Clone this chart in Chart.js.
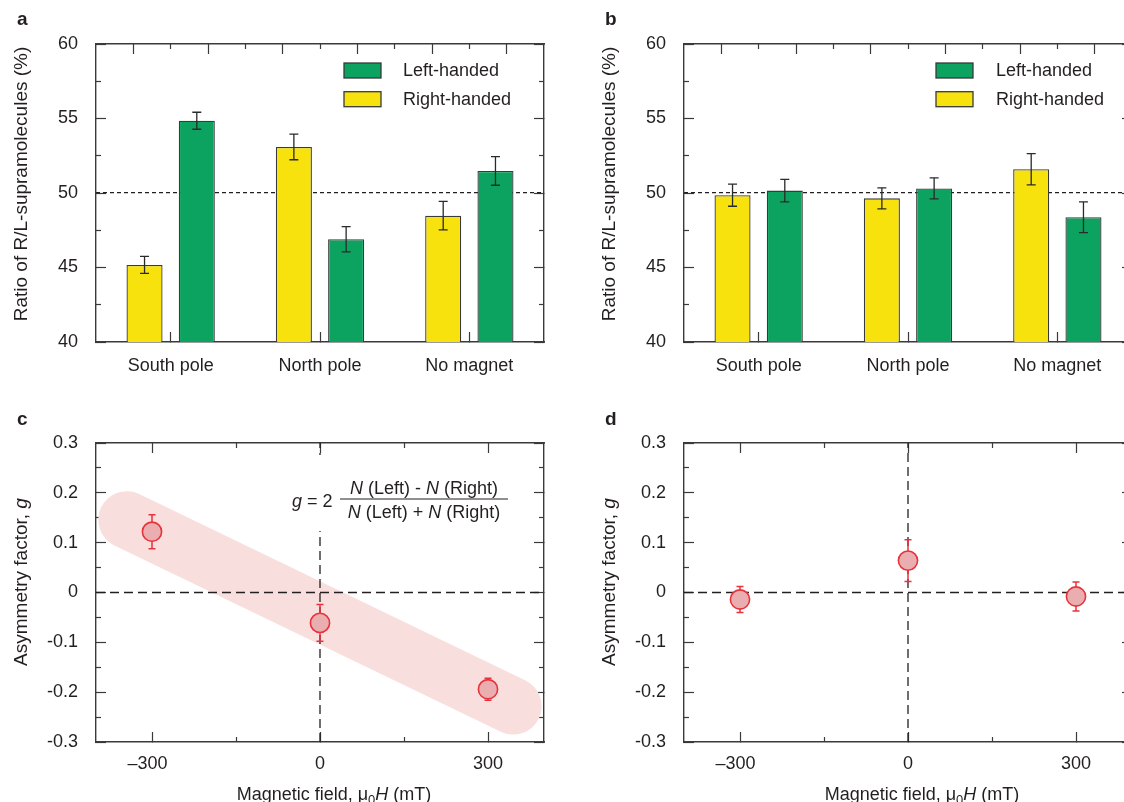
<!DOCTYPE html>
<html lang="en">
<head>
<meta charset="UTF-8">
<title>Chirality of supramolecules under a magnetic field</title>
<script src="https://cdn.jsdelivr.net/npm/chart.js@4"></script>
<style>
  html, body { margin: 0; padding: 0; background: #fff; overflow: hidden; width: 1124px; height: 802px; }
  .panel { position: absolute; }
  canvas { display: block; }
</style>
</head>
<body>
<div class="panel" style="left:0;top:0"><canvas id="chartA" width="560" height="400"></canvas></div>
<div class="panel" style="left:588px;top:0"><canvas id="chartB" width="560" height="400"></canvas></div>
<div class="panel" style="left:0;top:400px"><canvas id="chartC" width="560" height="402"></canvas></div>
<div class="panel" style="left:588px;top:400px"><canvas id="chartD" width="560" height="402"></canvas></div>

<script>
// ---- data ----
const categories = ['South pole', 'North pole', 'No magnet'];

// panel a
const aRight = [45.17, 53.09, 48.48];
const aRightErr = [0.57, 0.86, 0.96];
const aLeft = [54.85, 46.90, 51.48];
const aLeftErr = [0.57, 0.85, 0.96];

// panel b
const bRight = [49.85, 49.64, 51.59];
const bRightErr = [0.74, 0.70, 1.05];
const bLeft = [50.16, 50.31, 48.37];
const bLeftErr = [0.75, 0.70, 1.03];

const ratioRange = [40, 60];
const ratioTicks = [40, 45, 50, 55, 60];
const ratioMinor = [42.5, 47.5, 52.5, 57.5];
const ratioLevel = [50];
const catSpan = [0, 3];
const topMajor = [0.25, 0.75, 1.25, 1.75, 2.25, 2.75];
const topMinor = [0.5, 1, 1.5, 2, 2.5];

// panels c and d
const field = [-300, 0, 300];
const cG = [0.122, -0.061, -0.194];
const cErr = [0.034, 0.037, 0.022];
const dG = [-0.014, 0.064, -0.008];
const dErr = [0.026, 0.042, 0.029];
const bandField = [-345, 345];
const bandG = [0.146, -0.228];

const fieldRange = [-400, 400];
const fieldTicks = [-300, 0, 300];
const fieldMinor = [-150, 150];
const gRange = [-0.3, 0.3];
const gTicks = [-0.3, -0.2, -0.1, 0, 0.1, 0.2, 0.3];
const gMinor = [-0.25, -0.15, -0.05, 0.05, 0.15, 0.25];

// ---- look ----
const FONT = "'Liberation Sans', Arial, Helvetica, sans-serif";
const INK = '#231f20';
const AXIS = '#3a3a3a';
const YELLOW = '#f8e20e';
const GREEN = '#0ca360';
const RED = '#e8323c';

Chart.defaults.font.family = FONT;
Chart.defaults.font.size = 18;
Chart.defaults.color = INK;

function setTicks(values) {
    return axis => { axis.ticks = values.map(v => ({ value: v })); };
}
function fixSize(prop, size) {
    return axis => { axis[prop] = size; };
}

// inward tick marks only, no labels
function tickAxis(pos, range, values, len, size, weight, withBorder) {
    const vertical = pos === 'left' || pos === 'right';
    return {
        type: 'linear', position: pos, min: range[0], max: range[1], weight: weight,
        offset: false,
        afterBuildTicks: setTicks(values),
        afterFit: fixSize(vertical ? 'width' : 'height', size),
        ticks: { display: false },
        grid: { drawOnChartArea: false, offset: false, tickLength: -len, tickColor: AXIS, tickWidth: 1.2 },
        border: withBorder ? { color: AXIS, width: 1.4 } : { display: false }
    };
}

// a dashed reference line drawn as the only grid line of a hidden axis
function levelAxis(pos, range, values, dash) {
    const vertical = pos === 'left' || pos === 'right';
    return {
        type: 'linear', position: pos, min: range[0], max: range[1], weight: 0,
        offset: false,
        afterBuildTicks: setTicks(values),
        afterFit: fixSize(vertical ? 'width' : 'height', 0),
        ticks: { display: false },
        grid: { drawOnChartArea: true, drawTicks: false, offset: false, color: INK, lineWidth: 1.2 },
        border: { display: false, dash: dash }
    };
}

function runFont(r) {
    return (r.italic ? 'italic ' : '') + (r.bold ? 'bold ' : '') + (r.size || 18) + 'px ' + FONT;
}
function drawRuns(ctx, runs, x, y, align) {
    const widths = runs.map(r => { ctx.font = runFont(r); return ctx.measureText(r.t).width; });
    const total = widths.reduce((s, w) => s + w, 0);
    let cx = align === 'center' ? x - total / 2 : x;
    runs.forEach((r, i) => {
        ctx.font = runFont(r);
        ctx.fillText(r.t, cx, y + (r.dy || 0));
        cx += widths[i];
    });
}

// panel letters, axis titles and the formula
function richText(items) {
    return {
        id: 'richText',
        afterDraw(chart) {
            const ctx = chart.ctx;
            ctx.save();
            ctx.fillStyle = INK;
            ctx.strokeStyle = INK;
            ctx.textAlign = 'left';
            items.forEach(it => {
                if (it.blank) {
                    ctx.fillStyle = '#fff';
                    ctx.fillRect(it.blank[0], it.blank[1], it.blank[2], it.blank[3]);
                    ctx.fillStyle = INK;
                    return;
                }
                if (it.rule) {
                    ctx.lineWidth = 1.2;
                    ctx.beginPath();
                    ctx.moveTo(it.rule[0], it.y);
                    ctx.lineTo(it.rule[1], it.y);
                    ctx.stroke();
                    return;
                }
                ctx.textBaseline = it.baseline || 'alphabetic';
                ctx.save();
                ctx.translate(it.x, it.y);
                if (it.rotate) ctx.rotate(it.rotate);
                drawRuns(ctx, it.runs, 0, 0, it.align || 'left');
                ctx.restore();
            });
            ctx.restore();
        }
    };
}

function errorBars(cfg) {
    function draw(chart, index) {
        const ds = chart.data.datasets[index];
        if (!ds.errors) return;
        const meta = chart.getDatasetMeta(index);
        const yScale = chart.scales[meta.yAxisID];
        const ctx = chart.ctx;
        const h = cfg.cap / 2;
        ctx.save();
        ctx.strokeStyle = cfg.color;
        ctx.lineWidth = cfg.width;
        meta.data.forEach((el, i) => {
            const raw = ds.data[i];
            const v = typeof raw === 'object' ? raw.y : raw;
            const top = yScale.getPixelForValue(v + ds.errors[i]);
            const bot = yScale.getPixelForValue(v - ds.errors[i]);
            ctx.beginPath();
            ctx.moveTo(el.x, top); ctx.lineTo(el.x, bot);
            ctx.moveTo(el.x - h, top); ctx.lineTo(el.x + h, top);
            ctx.moveTo(el.x - h, bot); ctx.lineTo(el.x + h, bot);
            ctx.stroke();
        });
        ctx.restore();
    }
    return {
        id: 'errorBars',
        beforeDatasetDraw(chart, args) { if (cfg.below) draw(chart, args.index); },
        afterDatasetDraw(chart, args) { if (!cfg.below) draw(chart, args.index); }
    };
}

function boxLegend(cfg) {
    return {
        id: 'boxLegend',
        afterDraw(chart) {
            const ctx = chart.ctx;
            ctx.save();
            ctx.font = '18px ' + FONT;
            ctx.textBaseline = 'middle';
            ctx.textAlign = 'left';
            cfg.order.forEach((idx, row) => {
                const ds = chart.data.datasets[idx];
                const y = cfg.y + row * cfg.gap;
                ctx.fillStyle = ds.backgroundColor;
                ctx.fillRect(cfg.x, y, 37, 15);
                ctx.strokeStyle = ds.borderColor;
                ctx.lineWidth = 1.3;
                ctx.strokeRect(cfg.x, y, 37, 15);
                ctx.fillStyle = INK;
                ctx.fillText(ds.label, cfg.textX, y + 8);
            });
            ctx.restore();
        }
    };
}

function ratioChart(id, right, rightErr, left, leftErr, letter, legendX, textX) {
    const barStyle = { borderColor: AXIS, borderWidth: 1.3, borderSkipped: false,
        categoryPercentage: 0.7, barPercentage: 0.69 };
    return new Chart(document.getElementById(id), {
        type: 'bar',
        data: {
            labels: categories,
            datasets: [
                Object.assign({ label: 'Right-handed', data: right, errors: rightErr, backgroundColor: YELLOW }, barStyle),
                Object.assign({ label: 'Left-handed', data: left, errors: leftErr, backgroundColor: GREEN }, barStyle)
            ]
        },
        options: {
            responsive: false,
            animation: false,
            events: [],
            layout: { padding: { left: 0, right: 16, top: 0, bottom: 0 } },
            plugins: { legend: { display: false }, tooltip: { enabled: false } },
            scales: {
                x: {
                    type: 'category', position: 'bottom', weight: 1, offset: true,
                    afterFit: fixSize('height', 58),
                    ticks: { padding: 23, color: INK, maxRotation: 0, autoSkip: false },
                    grid: { drawOnChartArea: false, offset: false, tickLength: -10, tickColor: AXIS, tickWidth: 1.2 },
                    border: { color: AXIS, width: 1.4 }
                },
                y: {
                    type: 'linear', position: 'left', weight: 1, min: ratioRange[0], max: ratioRange[1],
                    afterBuildTicks: setTicks(ratioTicks),
                    afterFit: fixSize('width', 96),
                    ticks: { padding: 28, color: INK },
                    grid: { drawOnChartArea: false, tickLength: -10, tickColor: AXIS, tickWidth: 1.2 },
                    border: { color: AXIS, width: 1.4 }
                },
                yMinor: tickAxis('left', ratioRange, ratioMinor, 5, 0, 0, false),
                yRight: tickAxis('right', ratioRange, ratioTicks, 10, 0, 0, true),
                yRightMinor: tickAxis('right', ratioRange, ratioMinor, 5, 0, 0, false),
                yLevel: levelAxis('right', ratioRange, ratioLevel, [4, 3]),
                xTop: tickAxis('top', catSpan, topMajor, 10, 44, 1, true),
                xTopMinor: tickAxis('top', catSpan, topMinor, 5, 0, 0, false)
            }
        },
        plugins: [
            errorBars({ color: '#2a2a2a', width: 1.3, cap: 9, below: false }),
            boxLegend({ x: legendX, textX: textX, y: 63, gap: 28.7, order: [1, 0] }),
            richText([
                { x: 17, y: 25, runs: [{ t: letter, bold: true, size: 19 }] },
                { x: 22, y: 184, rotate: -Math.PI / 2, align: 'center', baseline: 'middle',
                  runs: [{ t: 'Ratio of R/L-supramolecules (%)', size: 19 }] }
            ])
        ]
    });
}

function fieldChart(id, g, err, letter, withBand) {
    const datasets = [
        { type: 'scatter', label: 'g', order: 0,
          data: field.map((x, i) => ({ x: x, y: g[i] })), errors: err,
          pointRadius: 9.6, pointBackgroundColor: '#eaaeb0', pointBorderColor: RED, pointBorderWidth: 1.6 },
        { type: 'line', label: 'zero g', order: 1,
          data: fieldRange.map(x => ({ x: x, y: 0 })),
          borderColor: INK, borderWidth: 1.3, borderDash: [9, 5], pointRadius: 0, fill: false },
        { type: 'line', label: 'zero field', order: 1,
          data: gRange.map(y => ({ x: 0, y: y })),
          borderColor: INK, borderWidth: 1.3, borderDash: [9, 5], pointRadius: 0, fill: false }
    ];
    if (withBand) {
        datasets.push({ type: 'line', label: 'trend', order: 2, clip: 0,
            data: bandField.map((x, i) => ({ x: x, y: bandG[i] })),
            borderColor: '#f8dfdd', borderWidth: 57, borderCapStyle: 'round', pointRadius: 0, fill: false });
    }
    const texts = [
        { x: 17, y: 25, runs: [{ t: letter, bold: true, size: 19 }] },
        { x: 22, y: 182, rotate: -Math.PI / 2, align: 'center', baseline: 'middle',
          runs: [{ t: 'Asymmetry factor, ', size: 19 }, { t: 'g', italic: true, size: 19 }] },
        { x: 334, y: 400, align: 'center',
          runs: [{ t: 'Magnetic field, \u03bc' }, { t: '0', size: 13, dy: 4 }, { t: 'H', italic: true }, { t: ' (mT)' }] }
    ];
    if (withBand) {
        texts.push(
            { blank: [284, 55, 228, 76] },
            { x: 292, y: 102, baseline: 'middle', runs: [{ t: 'g', italic: true }, { t: ' = 2' }] },
            { x: 424, y: 89, align: 'center', baseline: 'middle',
              runs: [{ t: 'N', italic: true }, { t: ' (Left) - ' }, { t: 'N', italic: true }, { t: ' (Right)' }] },
            { rule: [340, 508], y: 99 },
            { x: 424, y: 113, align: 'center', baseline: 'middle',
              runs: [{ t: 'N', italic: true }, { t: ' (Left) + ' }, { t: 'N', italic: true }, { t: ' (Right)' }] }
        );
    }
    return new Chart(document.getElementById(id), {
        type: 'scatter',
        data: { datasets: datasets },
        options: {
            responsive: false,
            animation: false,
            events: [],
            layout: { padding: { left: 0, right: 16, top: 0, bottom: 0 } },
            plugins: { legend: { display: false }, tooltip: { enabled: false } },
            scales: {
                x: {
                    type: 'linear', position: 'bottom', weight: 1, min: fieldRange[0], max: fieldRange[1],
                    afterBuildTicks: setTicks(fieldTicks),
                    afterFit: fixSize('height', 60),
                    ticks: { padding: 21, color: INK, maxRotation: 0,
                             callback: v => v < 0 ? '\u2013' + Math.abs(v) + '\u2002' : String(v) },
                    grid: { drawOnChartArea: false, tickLength: -10, tickColor: AXIS, tickWidth: 1.2 },
                    border: { color: AXIS, width: 1.4 }
                },
                xMinor: tickAxis('bottom', fieldRange, fieldMinor, 5, 0, 0, false),
                xTop: tickAxis('top', fieldRange, fieldTicks, 10, 43, 1, true),
                xTopMinor: tickAxis('top', fieldRange, fieldMinor, 5, 0, 0, false),
                y: {
                    type: 'linear', position: 'left', weight: 1, min: gRange[0], max: gRange[1],
                    afterBuildTicks: setTicks(gTicks),
                    afterFit: fixSize('width', 96),
                    ticks: { padding: 28, color: INK,
                             callback: v => Math.abs(v) < 1e-9 ? '0' : v.toFixed(1) },
                    grid: { drawOnChartArea: false, tickLength: -10, tickColor: AXIS, tickWidth: 1.2 },
                    border: { color: AXIS, width: 1.4 }
                },
                yMinor: tickAxis('left', gRange, gMinor, 5, 0, 0, false),
                yRight: tickAxis('right', gRange, gTicks, 10, 0, 0, true),
                yRightMinor: tickAxis('right', gRange, gMinor, 5, 0, 0, false)
            }
        },
        plugins: [
            errorBars({ color: RED, width: 1.5, cap: 7, below: true }),
            richText(texts)
        ]
    });
}

ratioChart('chartA', aRight, aRightErr, aLeft, aLeftErr, 'a', 344, 403);
ratioChart('chartB', bRight, bRightErr, bLeft, bLeftErr, 'b', 348, 408);
fieldChart('chartC', cG, cErr, 'c', true);
fieldChart('chartD', dG, dErr, 'd', false);
</script>
</body>
</html>
